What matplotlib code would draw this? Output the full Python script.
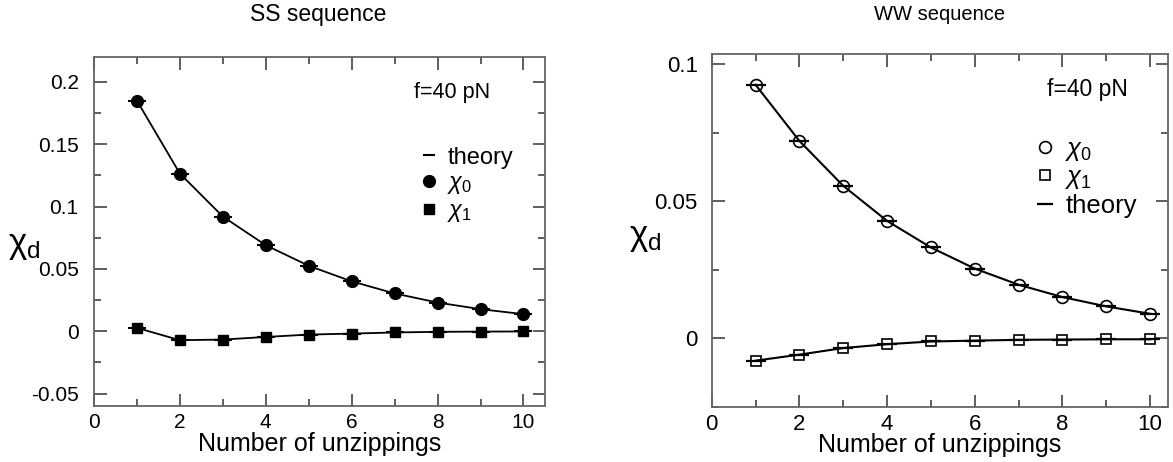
import matplotlib
matplotlib.use("Agg")
import matplotlib.pyplot as plt
from matplotlib.lines import Line2D
from matplotlib.ticker import MultipleLocator

plt.rcParams['font.family'] = ['Liberation Sans', 'DejaVu Sans']
plt.rcParams['mathtext.fontset'] = 'custom'
plt.rcParams['mathtext.rm'] = 'Liberation Sans'
plt.rcParams['mathtext.it'] = 'Liberation Sans:italic'

# ---------------- data ----------------
n_unzip = [1, 2, 3, 4, 5, 6, 7, 8, 9, 10]

ss_chi0 = [0.185, 0.1265, 0.092, 0.069, 0.0525, 0.040, 0.0303, 0.023, 0.0177, 0.0137]
ss_chi1 = [0.0027, -0.0072, -0.0067, -0.0046, -0.0027, -0.0019, -0.0010, -0.0005, -0.0003, -0.0002]
ss_theory0 = [0.185, 0.1265, 0.092, 0.069, 0.0525, 0.040, 0.0303, 0.023, 0.0177, 0.0137]
ss_theory1 = [0.0027, -0.0072, -0.0067, -0.0046, -0.0027, -0.0019, -0.0010, -0.0005, -0.0003, -0.0002]

ww_chi0 = [0.0925, 0.072, 0.0556, 0.0428, 0.0331, 0.0254, 0.0195, 0.0150, 0.0116, 0.0089]
ww_chi1 = [-0.0082, -0.0060, -0.0036, -0.0022, -0.0012, -0.0009, -0.0006, -0.0005, -0.0004, -0.0004]
ww_theory0 = [0.0925, 0.072, 0.0556, 0.0428, 0.0331, 0.0254, 0.0195, 0.0150, 0.0116, 0.0089]
ww_theory1 = [-0.0082, -0.0060, -0.0036, -0.0022, -0.0012, -0.0009, -0.0006, -0.0005, -0.0004, -0.0004]

ss_yticks = [-0.05, 0, 0.05, 0.1, 0.15, 0.2]
ss_yticklabels = ['-0.05', '0', '0.05', '0.1', '0.15', '0.2']
ww_yticks = [0, 0.05, 0.1]
ww_yticklabels = ['0', '0.05', '0.1']
xticks = [0, 2, 4, 6, 8, 10]
xticklabels = ['0', '2', '4', '6', '8', '10']

# ---------------- figure ----------------
W, H = 1173, 462
fig = plt.figure(figsize=(11.73, 4.62), dpi=100)
axL = fig.add_axes([0.0801, 0.1212, 0.3845, 0.7554])
axR = fig.add_axes([0.6067, 0.1197, 0.3888, 0.7628])

spine_col = '#666666'

def style(ax, tick_fs, pad):
    for s in ax.spines.values():
        s.set_color(spine_col)
        s.set_linewidth(1.3)
    ax.tick_params(which='both', direction='in', top=True, right=True,
                   color='#333333', width=1.1, labelsize=tick_fs)
    ax.tick_params(axis='y', pad=pad)
    ax.tick_params(axis='x', pad=5)
    ax.tick_params(which='major', length=9)
    ax.tick_params(which='minor', length=5)
    ax.xaxis.set_minor_locator(MultipleLocator(1))
    ax.yaxis.set_minor_locator(MultipleLocator(0.025))

# ---- left panel ----
ax = axL
ax.plot(n_unzip, ss_theory0, '-', color='black', lw=1.3, marker='_', ms=13, mew=1.5, zorder=2)
ax.plot(n_unzip, ss_theory1, '-', color='black', lw=1.3, marker='_', ms=13, mew=1.5, zorder=2)
ax.plot(n_unzip, ss_chi0, 'o', color='black', ms=8.5, zorder=3)
ax.plot(n_unzip, ss_chi1, 's', color='black', ms=7, zorder=3)
ax.set_xlim(0, 10.5)
ax.set_ylim(-0.06, 0.22)
ax.set_xticks(xticks)
ax.set_xticklabels(xticklabels)
ax.set_yticks(ss_yticks)
ax.set_yticklabels(ss_yticklabels)
style(ax, 15, 11)
ax.set_xlabel('Number of unzippings', fontsize=18, labelpad=0)
ax.set_ylabel(r'$\mathrm{\chi}_\mathrm{d}$', fontsize=25, rotation=0, va='center')
ax.yaxis.set_label_coords(-0.155, 0.46)
fig.text(318 / W, 1 - 15 / H, 'SS sequence', fontsize=16.5, ha='center', va='center')
ax.text(0.794, 0.897, 'f=40 pN', transform=ax.transAxes, fontsize=15.5, ha='center', va='center')
hL = [Line2D([], [], ls='none', marker='_', ms=9, mew=1.5, color='black'),
      Line2D([], [], ls='none', marker='o', ms=8.5, color='black'),
      Line2D([], [], ls='none', marker='s', ms=7, color='black')]
ax.legend(hL, ['theory', r'$\chi_0$', r'$\chi_1$'], loc='upper left',
          bbox_to_anchor=(0.70, 0.77), frameon=False, fontsize=17,
          handlelength=0.8, handletextpad=0.4, labelspacing=0.15, borderaxespad=0)

# ---- right panel ----
ax = axR
ax.plot(n_unzip, ww_theory0, '-', color='black', lw=1.5, marker='_', ms=15, mew=1.6, zorder=2)
ax.plot(n_unzip, ww_theory1, '-', color='black', lw=1.5, marker='_', ms=15, mew=1.6, zorder=2)
ax.plot(n_unzip, ww_chi0, 'o', mfc='none', mec='black', mew=1.2, ms=8.5, zorder=3)
ax.plot(n_unzip, ww_chi1, 's', mfc='none', mec='black', mew=1.2, ms=6.5, zorder=3)
ax.set_xlim(0, 10.4)
ax.set_ylim(-0.025, 0.1036)
ax.set_xticks(xticks)
ax.set_xticklabels(xticklabels)
ax.set_yticks(ww_yticks)
ax.set_yticklabels(ww_yticklabels)
style(ax, 16, 10)
ax.set_xlabel('Number of unzippings', fontsize=18, labelpad=-1)
ax.set_ylabel(r'$\mathrm{\chi}_\mathrm{d}$', fontsize=25, rotation=0, va='center')
ax.yaxis.set_label_coords(-0.145, 0.48)
fig.text(940 / W, 1 - 14 / H, 'WW sequence', fontsize=14.5, ha='center', va='center')
ax.text(0.823, 0.899, 'f=40 pN', transform=ax.transAxes, fontsize=16.5, ha='center', va='center')
hR = [Line2D([], [], ls='none', marker='o', ms=8.5, mfc='none', mec='black', mew=1.2),
      Line2D([], [], ls='none', marker='s', ms=6.5, mfc='none', mec='black', mew=1.2),
      Line2D([], [], ls='none', marker='_', ms=12, mew=1.6, color='black')]
ax.legend(hR, [r'$\chi_0$', r'$\chi_1$', 'theory'], loc='upper left',
          bbox_to_anchor=(0.685, 0.795), frameon=False, fontsize=18.5,
          handlelength=0.8, handletextpad=0.4, labelspacing=0.1, borderaxespad=0)

fig.savefig('out.png', dpi=100)
